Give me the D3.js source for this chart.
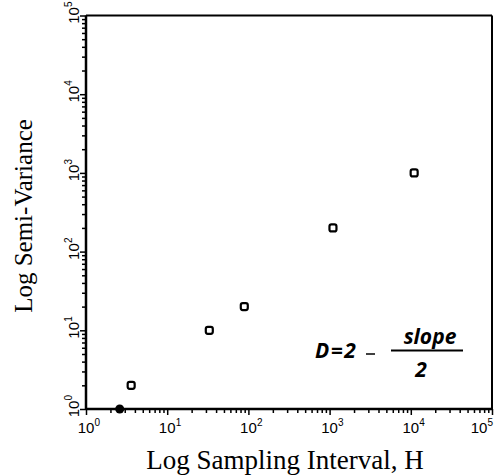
<!DOCTYPE html>
<html>
<head>
  <meta charset="utf-8">
  <title>Log Semi-Variance vs Log Sampling Interval</title>
  <script src="https://d3js.org/d3.v7.min.js"></script>
  <style>
    body { margin: 0; background: #fff; }
  </style>
</head>
<body>
  <script>
    // data
    let filledX = [2.6];
    let filledY = [1];
    let openX = [3.6, 33, 89, 1100, 11000];
    let openY = [2, 10, 20, 200, 1000];
    let exponents = [0, 1, 2, 3, 4, 5];

    let margin = {top: 15.5, right: 2, bottom: 66, left: 86},
        width = 494 - margin.left - margin.right,
        height = 475 - margin.top - margin.bottom;

    let svg = d3.select("body")
                .append("svg")
                .attr("width", 494)
                .attr("height", 475);

    let g = svg.append("g")
               .attr("transform", "translate(" + margin.left + "," + margin.top + ")");

    let x = d3.scaleLog().domain([1, 1e5]).range([0, width]);
    let y = d3.scaleLog().domain([1, 1e5]).range([height, 0]);

    let major = exponents.map(function(e) { return Math.pow(10, e); });
    let minor = [];
    exponents.slice(0, -1).forEach(function(e) {
      for (let m = 2; m <= 9; m++) minor.push(m * Math.pow(10, e));
    });

    // minor + major ticks
    function ticks(axis, vals, size) {
      return axis.tickValues(vals).tickSize(size).tickFormat("");
    }
    let xAxisG = g.append("g").attr("transform", "translate(0," + height + ")");
    xAxisG.append("g").call(ticks(d3.axisBottom(x), minor, 4));
    xAxisG.append("g").call(ticks(d3.axisBottom(x), major, 6));
    let yAxisG = g.append("g");
    yAxisG.append("g").call(ticks(d3.axisLeft(y), minor, 4));
    yAxisG.append("g").call(ticks(d3.axisLeft(y), major, 6));
    g.selectAll(".domain").remove();
    g.selectAll(".tick line").attr("stroke", "#000").attr("stroke-width", 1.5);

    // frame
    g.append("line").attr("x1", 0).attr("x2", width).attr("y1", 0).attr("y2", 0)
     .attr("stroke", "#000").attr("stroke-width", 2);
    g.append("line").attr("x1", width).attr("x2", width).attr("y1", 0).attr("y2", height)
     .attr("stroke", "#000").attr("stroke-width", 2);
    g.append("line").attr("x1", 0).attr("x2", width).attr("y1", height).attr("y2", height)
     .attr("stroke", "#000").attr("stroke-width", 2.5);
    g.append("line").attr("x1", 0).attr("x2", 0).attr("y1", 0).attr("y2", height)
     .attr("stroke", "#000").attr("stroke-width", 2.5);

    let tickFont = "'Liberation Sans', Arial, sans-serif";

    // x tick labels: 10 with exponent
    exponents.forEach(function(e, i) {
      let px = x(Math.pow(10, e));
      if (i === exponents.length - 1) px -= 13; // keep the last one inside the page
      g.append("text")
       .attr("x", px).attr("y", height + 24)
       .attr("text-anchor", "middle")
       .attr("font-family", tickFont).attr("font-size", 15)
       .text("10");
      g.append("text")
       .attr("x", px + 8.5).attr("y", height + 17)
       .attr("font-family", tickFont).attr("font-size", 10)
       .text(e);
    });

    // y tick labels, rotated
    exponents.forEach(function(e) {
      let py = y(Math.pow(10, e));
      let t = g.append("g").attr("transform", "translate(-7," + py + ") rotate(-90)");
      t.append("text")
       .attr("x", 0).attr("y", 0)
       .attr("text-anchor", "middle")
       .attr("font-family", tickFont).attr("font-size", 15)
       .text("10");
      t.append("text")
       .attr("x", 8.5).attr("y", -7)
       .attr("font-family", tickFont).attr("font-size", 10)
       .text(e);
    });

    // points
    g.selectAll("circle.filled")
     .data(filledX)
     .enter()
     .append("circle")
     .attr("class", "filled")
     .attr("cx", function(d) { return x(d); })
     .attr("cy", function(d, i) { return y(filledY[i]); })
     .attr("r", 4.5)
     .attr("fill", "#000");

    g.selectAll("rect.open")
     .data(openX)
     .enter()
     .append("rect")
     .attr("class", "open")
     .attr("x", function(d) { return x(d) - 3.5; })
     .attr("y", function(d, i) { return y(openY[i]) - 3.5; })
     .attr("width", 7)
     .attr("height", 7)
     .attr("rx", 2)
     .attr("fill", "none")
     .attr("stroke", "#000")
     .attr("stroke-width", 2.2);

    // axis titles
    let serif = "'Liberation Serif', 'Times New Roman', serif";
    svg.append("text")
       .attr("x", 285).attr("y", 469)
       .attr("text-anchor", "middle")
       .attr("font-family", serif).attr("font-size", 27)
       .text("Log Sampling Interval, H");
    svg.append("text")
       .attr("transform", "translate(32,216) rotate(-90)")
       .attr("text-anchor", "middle")
       .attr("font-family", serif).attr("font-size", 25)
       .text("Log Semi-Variance");

    // formula
    let ff = "'Open Sans', 'DejaVu Sans', sans-serif";
    let eq = svg.append("g")
                .attr("font-family", ff)
                .attr("font-style", "italic")
                .attr("font-weight", "bold")
                .attr("font-size", 21);
    eq.append("text").attr("x", 315).attr("y", 358).attr("letter-spacing", 1.5).text("D=2");
    eq.append("line").attr("x1", 366).attr("x2", 375).attr("y1", 354).attr("y2", 354)
      .attr("stroke", "#000").attr("stroke-width", 1.5);
    eq.append("text").attr("x", 430).attr("y", 344).attr("text-anchor", "middle").text("slope");
    eq.append("line").attr("x1", 391).attr("x2", 463).attr("y1", 350.5).attr("y2", 350.5)
      .attr("stroke", "#000").attr("stroke-width", 2);
    eq.append("text").attr("x", 421).attr("y", 377).attr("text-anchor", "middle").text("2");
  </script>
</body>
</html>
